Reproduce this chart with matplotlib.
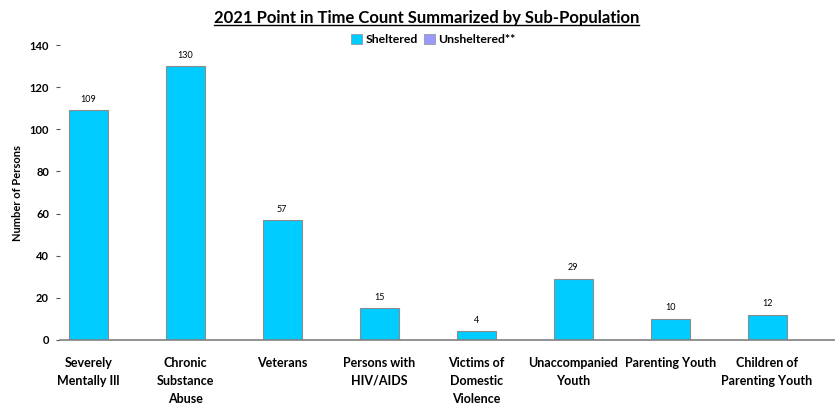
import matplotlib.pyplot as plt
from matplotlib.lines import Line2D
from matplotlib.patches import Patch

plt.rcParams['font.family'] = ['Lato', 'DejaVu Sans']

categories = ['Severely\nMentally Ill', 'Chronic\nSubstance\nAbuse', 'Veterans',
              'Persons with\nHIV/AIDS', 'Victims of\nDomestic\nViolence',
              'Unaccompanied\nYouth', 'Parenting Youth', 'Children of\nParenting Youth']
sheltered = [109, 130, 57, 15, 4, 29, 10, 12]
yticks = [0, 20, 40, 60, 80, 100, 120, 140]

bar_color = '#00ccff'
unsh_color = '#9999ff'

fig = plt.figure(figsize=(8.35, 4.07), dpi=100)
ax = fig.add_axes([0.072, 0.165, 0.928, 0.724])

x = list(range(len(categories)))
bars = ax.bar(x, sheltered, width=0.4, color=bar_color, edgecolor='#8c8c8c', linewidth=0.8)
for xi, v in zip(x, sheltered):
    ax.text(xi, v + 3, str(v), ha='center', va='bottom', fontsize=6.5)

ax.set_xlim(-0.29, 7.7)
ax.set_ylim(0, 140)
ax.set_yticks(yticks)
ax.set_yticklabels([str(t) for t in yticks], fontsize=8, fontweight='bold')
ax.set_xticks(x)
ax.set_xticklabels(categories, fontsize=9, fontweight='bold', linespacing=1.6)
ax.tick_params(axis='x', length=0, pad=12)
ax.tick_params(axis='y', length=3, color='#555555', pad=5)
for s in ['top', 'right', 'left']:
    ax.spines[s].set_visible(False)
ax.spines['bottom'].set_color('#808080')
ax.spines['bottom'].set_linewidth(1.2)
ax.set_ylabel('Number of Persons', fontsize=8, fontweight='bold', labelpad=5)

title = fig.text(0.511, 0.955, '2021 Point in Time Count Summarized by Sub-Population',
                 ha='center', va='center', fontsize=12, fontweight='bold')
fig.canvas.draw()
bb = title.get_window_extent().transformed(fig.transFigure.inverted())
fig.add_artist(Line2D([bb.x0, bb.x1], [bb.y0 + 0.003, bb.y0 + 0.003], color='black', lw=1))

handles = [Patch(facecolor=bar_color, edgecolor='#8c8c8c', lw=0.5),
           Patch(facecolor=unsh_color, edgecolor='#8c8c8c', lw=0.5)]
fig.legend(handles, ['Sheltered', 'Unsheltered**'], loc='center', bbox_to_anchor=(0.519, 0.903),
           ncol=2, frameon=False, prop={'size': 8.8, 'weight': 'bold'},
           handlelength=0.9, handleheight=0.9, handletextpad=0.3, columnspacing=0.5)

fig.savefig('out.png', dpi=100)
